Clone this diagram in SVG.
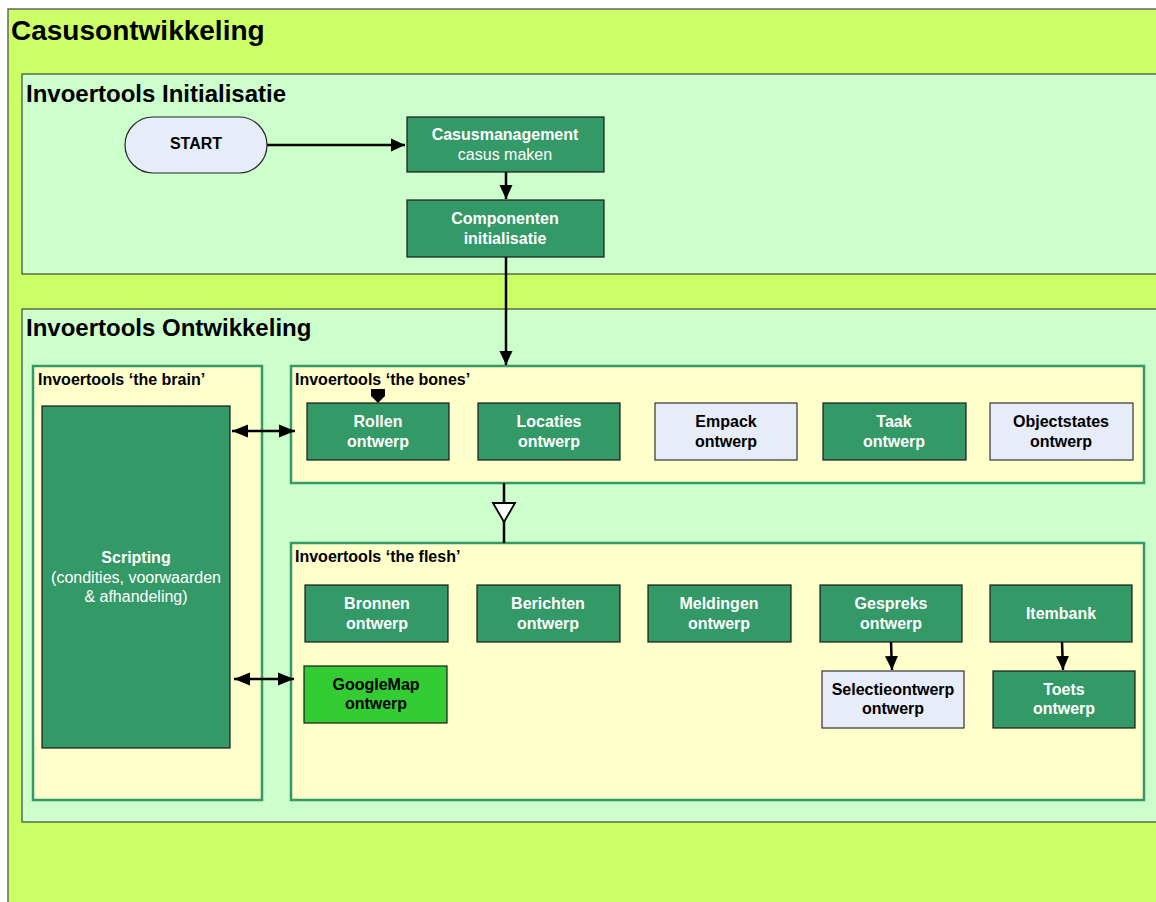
<svg xmlns="http://www.w3.org/2000/svg" width="1156" height="902" viewBox="0 0 1156 902">
<style>
text{font-family:"Liberation Sans",Arial,sans-serif}
.h1{font-size:28px;font-weight:bold;fill:#000}
.h2{font-size:24px;font-weight:bold;fill:#000}
.h3{font-size:16px;font-weight:bold;fill:#000}
.dk{fill:#339966;stroke:#1a1a1a;stroke-width:1.2}
.lt{fill:#E6ECF8;stroke:#333;stroke-width:1.2}
.gm{fill:#33CC33;stroke:#1a1a1a;stroke-width:1.2}
.sub{fill:#FFFFCC;stroke:#339966;stroke-width:2.5}
.tw{font-size:16px;font-weight:bold;fill:#fff;text-anchor:middle}
.tb{font-size:16px;font-weight:bold;fill:#000;text-anchor:middle}
.trw{font-size:16px;fill:#fff;text-anchor:middle}
.ln{stroke:#000;stroke-width:2.5;fill:none}
</style>
<defs>
<marker id="ah" markerWidth="14" markerHeight="14" refX="14" refY="7" orient="auto" markerUnits="userSpaceOnUse" viewBox="0 0 14 14"><path d="M0,0.5 L14,7 L0,13.5 z" fill="#000"/></marker>
<marker id="ahs" markerWidth="16" markerHeight="14" refX="16" refY="7" orient="auto-start-reverse" markerUnits="userSpaceOnUse" viewBox="0 0 16 14"><path d="M0,0.5 L16,7 L0,13.5 z" fill="#000"/></marker>
</defs>
<rect width="1156" height="902" fill="#fff"/>
<g id="frame-casus">
<rect x="8" y="9" width="1160" height="900" fill="#CCFF66" stroke="#666" stroke-width="1.5"/>
<text class="h1" x="11" y="40">Casusontwikkeling</text>
</g>
<g id="frame-init">
<rect x="22" y="74" width="1150" height="200" fill="#CCFFCC" stroke="#222" stroke-width="1"/>
<text class="h2" x="26" y="102">Invoertools Initialisatie</text>
</g>
<g id="frame-ontw">
<rect x="22" y="309" width="1150" height="513" fill="#CCFFCC" stroke="#222" stroke-width="1"/>
<text class="h2" x="26" y="336">Invoertools Ontwikkeling</text>
</g>
<g id="frame-brain">
<rect class="sub" x="33" y="366" width="229" height="434"/>
<text class="h3" x="38" y="385">Invoertools ‘the brain’</text>
</g>
<g id="frame-bones">
<rect class="sub" x="291" y="366" width="853" height="117"/>
<text class="h3" x="295" y="385">Invoertools ‘the bones’</text>
</g>
<g id="frame-flesh">
<rect class="sub" x="291" y="543" width="853" height="257"/>
<text class="h3" x="295" y="562">Invoertools ‘the flesh’</text>
</g>
<g id="connectors">
<line class="ln" x1="267" y1="145" x2="405" y2="145" marker-end="url(#ah)"/>
<line class="ln" x1="506" y1="172" x2="506" y2="199" marker-end="url(#ah)"/>
<line class="ln" x1="506" y1="257" x2="506" y2="365" marker-end="url(#ah)"/>
<line class="ln" x1="232" y1="431" x2="295" y2="431" marker-start="url(#ahs)" marker-end="url(#ahs)"/>
<line class="ln" x1="234" y1="679" x2="294" y2="679" marker-start="url(#ahs)" marker-end="url(#ahs)"/>
<line class="ln" x1="504" y1="483" x2="504" y2="543"/>
<path d="M493,503 L515,503 L504,522 z" fill="#fff" stroke="#000" stroke-width="1.8"/>
<path d="M371,389 L385,389 L385,396 L378,403 L371,396 z" fill="#000"/>
<line class="ln" x1="891" y1="642" x2="892" y2="670" marker-end="url(#ah)"/>
<line class="ln" x1="1062" y1="642" x2="1063" y2="670" marker-end="url(#ah)"/>
</g>
<g id="start">
<rect x="125" y="117" width="142" height="56" rx="28" fill="#E6ECF8" stroke="#222" stroke-width="1.2"/>
<text class="tb" x="196" y="149">START</text>
</g>
<g id="casusmanagement">
<rect class="dk" x="407" y="117" width="197" height="55"/>
<text class="tw" x="505" y="140">Casusmanagement</text>
<text class="trw" x="505" y="160">casus maken</text>
</g>
<g id="componenten">
<rect class="dk" x="407" y="200" width="197" height="57"/>
<text class="tw" x="505" y="224">Componenten</text>
<text class="tw" x="505" y="244">initialisatie</text>
</g>
<g id="scripting">
<rect class="dk" x="42" y="406" width="188" height="342"/>
<text class="tw" x="136" y="563">Scripting</text>
<text class="trw" x="136" y="583">(condities, voorwaarden</text>
<text class="trw" x="136" y="602">&amp; afhandeling)</text>
</g>
<g id="rollen"><rect class="dk" x="307" y="403" width="142" height="57"/><text class="tw" x="378" y="427">Rollen</text><text class="tw" x="378" y="447">ontwerp</text></g>
<g id="locaties"><rect class="dk" x="478" y="403" width="142" height="57"/><text class="tw" x="549" y="427">Locaties</text><text class="tw" x="549" y="447">ontwerp</text></g>
<g id="empack"><rect class="lt" x="655" y="403" width="142" height="57"/><text class="tb" x="726" y="427">Empack</text><text class="tb" x="726" y="447">ontwerp</text></g>
<g id="taak"><rect class="dk" x="823" y="403" width="143" height="57"/><text class="tw" x="894" y="427">Taak</text><text class="tw" x="894" y="447">ontwerp</text></g>
<g id="objectstates"><rect class="lt" x="990" y="403" width="143" height="57"/><text class="tb" x="1061" y="427">Objectstates</text><text class="tb" x="1061" y="447">ontwerp</text></g>
<g id="bronnen"><rect class="dk" x="305" y="585" width="143" height="57"/><text class="tw" x="377" y="609">Bronnen</text><text class="tw" x="377" y="629">ontwerp</text></g>
<g id="berichten"><rect class="dk" x="477" y="585" width="143" height="57"/><text class="tw" x="548" y="609">Berichten</text><text class="tw" x="548" y="629">ontwerp</text></g>
<g id="meldingen"><rect class="dk" x="648" y="585" width="143" height="57"/><text class="tw" x="719" y="609">Meldingen</text><text class="tw" x="719" y="629">ontwerp</text></g>
<g id="gespreks"><rect class="dk" x="820" y="585" width="142" height="57"/><text class="tw" x="891" y="609">Gespreks</text><text class="tw" x="891" y="629">ontwerp</text></g>
<g id="itembank"><rect class="dk" x="990" y="585" width="142" height="57"/><text class="tw" x="1061" y="619">Itembank</text></g>
<g id="googlemap"><rect class="gm" x="304" y="666" width="143" height="57"/><text class="tb" x="376" y="690">GoogleMap</text><text class="tb" x="376" y="709">ontwerp</text></g>
<g id="selectie"><rect class="lt" x="822" y="671" width="142" height="57"/><text class="tb" x="893" y="695">Selectieontwerp</text><text class="tb" x="893" y="714">ontwerp</text></g>
<g id="toets"><rect class="dk" x="993" y="671" width="142" height="57"/><text class="tw" x="1064" y="695">Toets</text><text class="tw" x="1064" y="714">ontwerp</text></g>
</svg>
